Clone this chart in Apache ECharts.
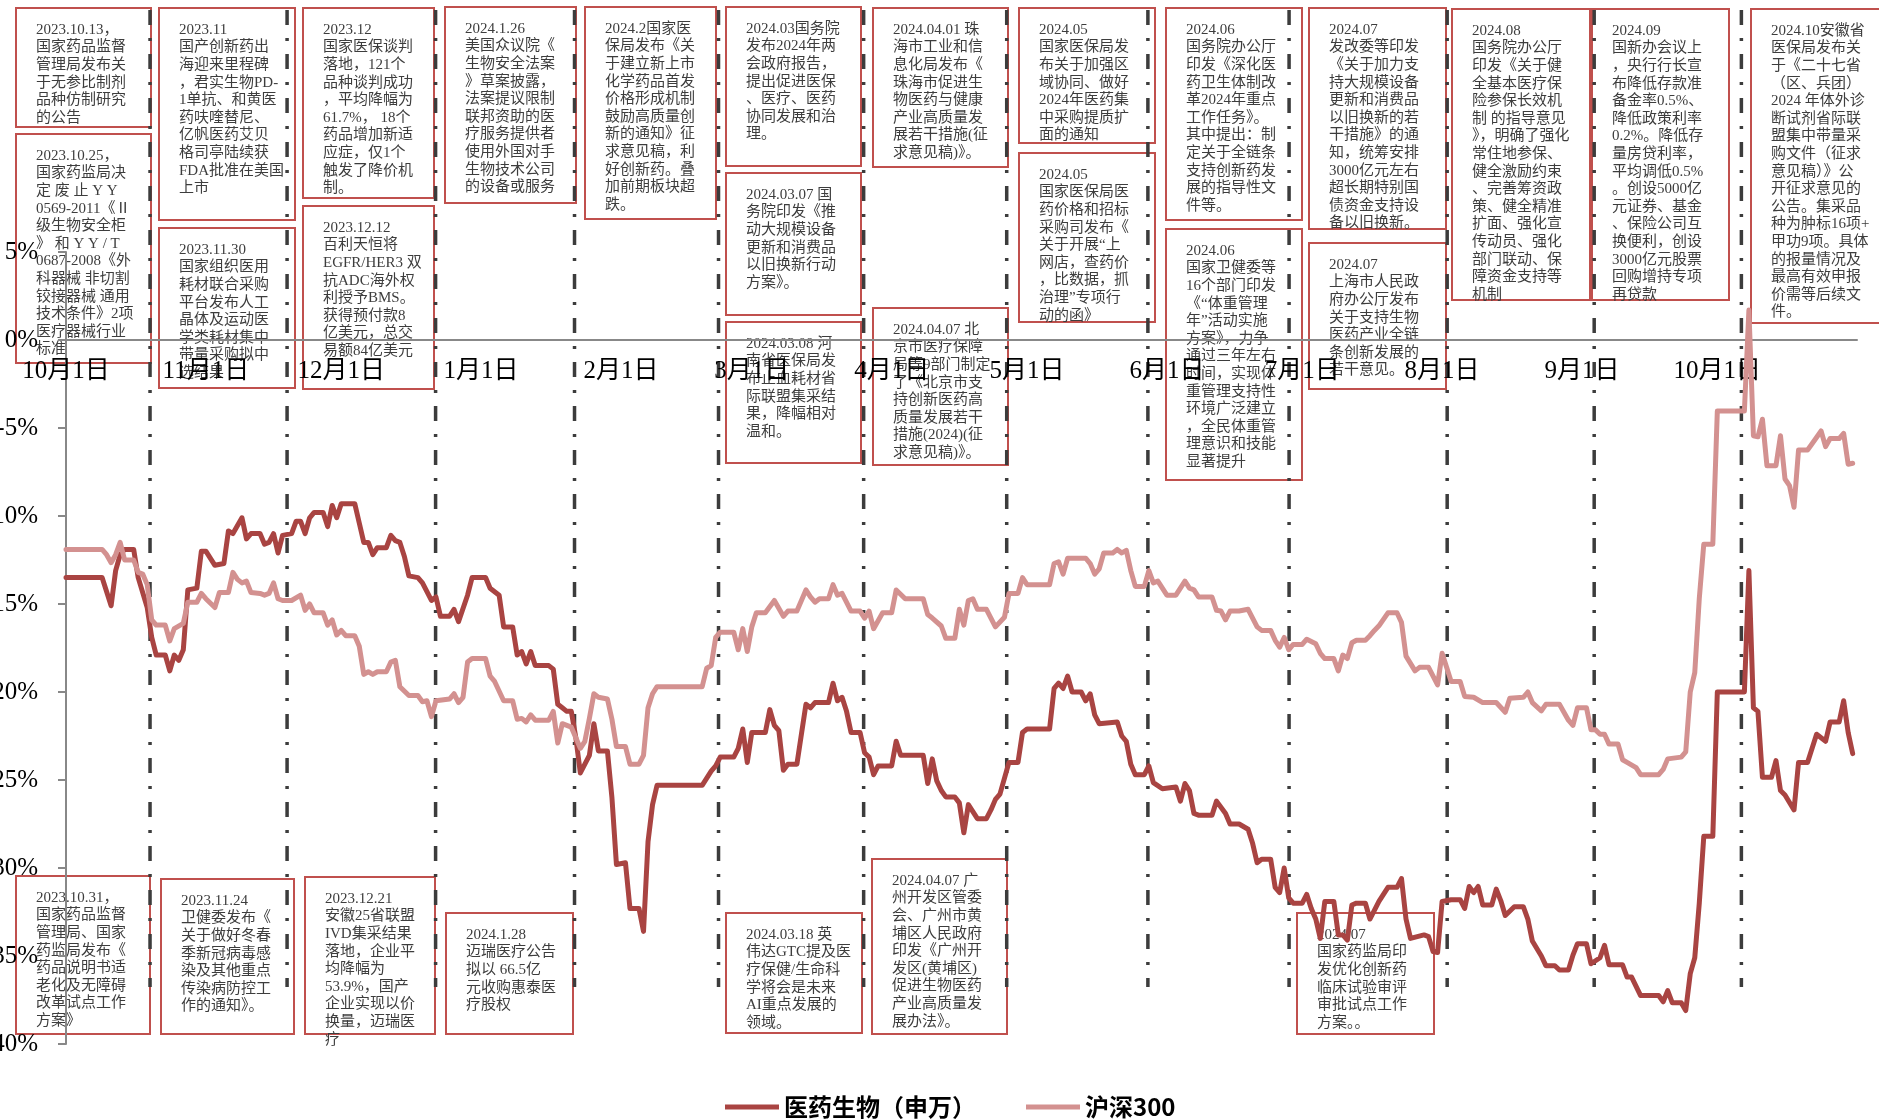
<!DOCTYPE html>
<html><head><meta charset="utf-8">
<script src="https://cdn.jsdelivr.net/npm/echarts@6/dist/echarts.min.js"></script>
<style>html,body{margin:0;padding:0;background:#fff}#c{width:1879px;height:1120px}</style>
</head><body><div id="c"></div>
<script>
const seriesNames = ['医药生物（申万）', '沪深300'];

const pharmaDates = ['2023-10-01','2023-10-09','2023-10-11','2023-10-12','2023-10-13','2023-10-14','2023-10-16','2023-10-17','2023-10-19','2023-10-20','2023-10-21','2023-10-23','2023-10-24','2023-10-25','2023-10-26','2023-10-27','2023-10-28','2023-10-30','2023-10-31','2023-11-01','2023-11-03','2023-11-05','2023-11-06','2023-11-07','2023-11-09','2023-11-10','2023-11-11','2023-11-13','2023-11-14','2023-11-15','2023-11-16','2023-11-17','2023-11-18','2023-11-20','2023-11-21','2023-11-22','2023-11-23','2023-11-24','2023-11-25','2023-11-27','2023-11-28','2023-11-29','2023-11-30','2023-12-01','2023-12-04','2023-12-05','2023-12-06','2023-12-07','2023-12-08','2023-12-09','2023-12-11','2023-12-12','2023-12-13','2023-12-14','2023-12-15','2023-12-16','2023-12-18','2023-12-19','2023-12-21','2023-12-22','2023-12-23','2023-12-25','2023-12-26','2023-12-27','2023-12-29','2023-12-30','2024-01-02','2024-01-03','2024-01-05','2024-01-06','2024-01-08','2024-01-09','2024-01-10','2024-01-11','2024-01-12','2024-01-13','2024-01-16','2024-01-17','2024-01-18','2024-01-19','2024-01-20','2024-01-21','2024-01-22','2024-01-23','2024-01-24','2024-01-25','2024-01-26','2024-01-27','2024-01-29','2024-01-30','2024-01-31','2024-02-02','2024-02-03','2024-02-05','2024-02-06','2024-02-07','2024-02-08','2024-02-09','2024-02-19','2024-02-21','2024-02-22','2024-02-23','2024-02-26','2024-02-27','2024-02-28','2024-02-29','2024-03-01','2024-03-04','2024-03-05','2024-03-06','2024-03-07','2024-03-08','2024-03-09','2024-03-11','2024-03-12','2024-03-13','2024-03-14','2024-03-15','2024-03-18','2024-03-19','2024-03-20','2024-03-21','2024-03-22','2024-03-23','2024-03-25','2024-03-26','2024-03-27','2024-03-28','2024-03-29','2024-04-01','2024-04-02','2024-04-03','2024-04-08','2024-04-09','2024-04-10','2024-04-11','2024-04-12','2024-04-13','2024-04-15','2024-04-16','2024-04-17','2024-04-18','2024-04-20','2024-04-22','2024-04-23','2024-04-24','2024-04-25','2024-04-27','2024-04-29','2024-04-30','2024-05-01','2024-05-06','2024-05-07','2024-05-08','2024-05-09','2024-05-10','2024-05-11','2024-05-13','2024-05-14','2024-05-15','2024-05-16','2024-05-17','2024-05-21','2024-05-22','2024-05-23','2024-05-24','2024-05-25','2024-05-27','2024-05-28','2024-05-29','2024-05-31','2024-06-03','2024-06-04','2024-06-05','2024-06-06','2024-06-07','2024-06-08','2024-06-11','2024-06-12','2024-06-14','2024-06-15','2024-06-17','2024-06-19','2024-06-20','2024-06-21','2024-06-22','2024-06-24','2024-06-25','2024-06-26','2024-06-27','2024-06-28','2024-06-29','2024-07-01','2024-07-02','2024-07-03','2024-07-04','2024-07-05','2024-07-06','2024-07-08','2024-07-09','2024-07-10','2024-07-11','2024-07-12','2024-07-13','2024-07-15','2024-07-16','2024-07-18','2024-07-20','2024-07-22','2024-07-23','2024-07-24','2024-07-25','2024-07-28','2024-07-29','2024-07-30','2024-07-31','2024-08-01','2024-08-03','2024-08-05','2024-08-06','2024-08-07','2024-08-08','2024-08-09','2024-08-10','2024-08-12','2024-08-13','2024-08-14','2024-08-15','2024-08-17','2024-08-19','2024-08-20','2024-08-21','2024-08-23','2024-08-24','2024-08-26','2024-08-27','2024-08-29','2024-08-30','2024-08-31','2024-09-02','2024-09-03','2024-09-05','2024-09-06','2024-09-07','2024-09-10','2024-09-11','2024-09-12','2024-09-14','2024-09-18','2024-09-19','2024-09-20','2024-09-21','2024-09-23','2024-09-24','2024-09-25','2024-09-26','2024-09-27','2024-09-28','2024-09-30','2024-10-01','2024-10-07','2024-10-08','2024-10-09','2024-10-10','2024-10-11','2024-10-13','2024-10-14','2024-10-15','2024-10-16','2024-10-18','2024-10-19','2024-10-21','2024-10-23','2024-10-25','2024-10-26','2024-10-28','2024-10-29','2024-10-30','2024-10-31'];
const pharmaValues = [-13.5,-13.5,-15.1,-13.1,-12.2,-11.9,-11.9,-13.5,-15.2,-16.9,-17.9,-17.9,-18.8,-17.9,-18.2,-17.6,-14.2,-14.1,-12.0,-12.0,-12.8,-12.7,-10.85,-11.0,-10.1,-11.3,-11.0,-11.0,-11.6,-11.5,-11.0,-12.1,-11.1,-11.0,-10.3,-10.3,-11.0,-10.1,-9.8,-9.8,-10.6,-9.4,-10.1,-9.3,-9.3,-10.4,-11.5,-11.5,-12.2,-11.8,-11.8,-11.1,-11.4,-11.5,-12.3,-13.4,-13.5,-13.8,-14.8,-14.6,-15.7,-15.7,-15.3,-16.0,-14.5,-13.5,-13.5,-14.1,-14.5,-16.3,-16.3,-17.9,-17.7,-18.4,-17.7,-18.5,-18.5,-18.7,-20.7,-20.9,-21.1,-21.1,-22.6,-24.6,-24.1,-23.6,-21.8,-23.35,-23.35,-26.0,-29.8,-29.7,-32.3,-32.3,-33.6,-28.5,-26.4,-25.3,-25.3,-24.5,-24.2,-23.7,-23.7,-23.2,-22.1,-24.0,-22.3,-22.3,-21.0,-21.9,-22.2,-24.45,-24.1,-24.1,-22.4,-20.7,-20.9,-20.6,-20.6,-19.5,-20.5,-20.3,-21.1,-22.3,-22.3,-23.45,-23.7,-24.7,-24.2,-24.2,-22.8,-23.6,-23.6,-25.2,-23.8,-25.05,-25.6,-25.96,-25.96,-26.3,-28.0,-26.4,-27.2,-27.2,-26.7,-26.1,-25.8,-24.0,-24.0,-22.3,-22.1,-22.1,-19.8,-19.5,-19.8,-19.1,-20.0,-20.0,-20.5,-20.1,-21.3,-21.8,-21.7,-22.5,-22.8,-24.1,-24.7,-24.7,-24.2,-25.15,-25.5,-25.4,-26.2,-25.2,-25.6,-26.9,-27.0,-27.0,-26.2,-26.9,-27.5,-27.5,-27.8,-28.6,-29.7,-29.5,-29.5,-31.1,-31.4,-30.0,-31.7,-32.0,-32.0,-31.5,-32.3,-32.9,-34.0,-31.9,-31.9,-33.8,-33.8,-34.1,-32.1,-32.0,-32.0,-32.9,-31.9,-31.1,-31.1,-30.6,-32.9,-34.0,-33.8,-33.9,-34.75,-34.8,-31.9,-31.8,-31.8,-32.3,-31.05,-31.4,-31.05,-32.1,-32.1,-31.2,-31.85,-32.7,-32.2,-32.2,-32.9,-34.15,-35.0,-35.55,-35.55,-35.8,-35.8,-34.95,-34.3,-34.3,-35.44,-35.1,-34.4,-35.5,-35.5,-36.2,-36.2,-37.25,-37.25,-37.6,-36.97,-37.65,-37.65,-38.1,-36.0,-35.1,-32.0,-28.2,-28.2,-20.0,-20.0,-13.1,-20.9,-21.1,-24.85,-24.85,-23.9,-25.6,-25.85,-26.7,-24.0,-24.0,-22.4,-22.8,-21.7,-21.7,-20.5,-22.3,-23.5];

const csiDates = ['2023-10-01','2023-10-09','2023-10-10','2023-10-11','2023-10-12','2023-10-13','2023-10-14','2023-10-16','2023-10-17','2023-10-18','2023-10-19','2023-10-20','2023-10-21','2023-10-23','2023-10-24','2023-10-25','2023-10-27','2023-10-28','2023-10-30','2023-10-31','2023-11-01','2023-11-03','2023-11-04','2023-11-06','2023-11-07','2023-11-08','2023-11-09','2023-11-10','2023-11-11','2023-11-13','2023-11-14','2023-11-15','2023-11-16','2023-11-17','2023-11-18','2023-11-20','2023-11-22','2023-11-23','2023-11-24','2023-11-25','2023-11-27','2023-11-28','2023-11-29','2023-11-30','2023-12-01','2023-12-02','2023-12-04','2023-12-05','2023-12-06','2023-12-07','2023-12-08','2023-12-09','2023-12-11','2023-12-12','2023-12-13','2023-12-14','2023-12-16','2023-12-18','2023-12-19','2023-12-20','2023-12-21','2023-12-22','2023-12-25','2023-12-26','2023-12-27','2023-12-28','2023-12-29','2023-12-30','2024-01-02','2024-01-03','2024-01-04','2024-01-06','2024-01-08','2024-01-09','2024-01-10','2024-01-11','2024-01-12','2024-01-13','2024-01-16','2024-01-17','2024-01-18','2024-01-19','2024-01-21','2024-01-23','2024-01-24','2024-01-25','2024-01-26','2024-01-27','2024-01-29','2024-01-30','2024-01-31','2024-02-02','2024-02-03','2024-02-05','2024-02-06','2024-02-07','2024-02-08','2024-02-09','2024-02-19','2024-02-20','2024-02-21','2024-02-22','2024-02-23','2024-02-26','2024-02-27','2024-02-28','2024-02-29','2024-03-01','2024-03-02','2024-03-04','2024-03-06','2024-03-08','2024-03-09','2024-03-11','2024-03-13','2024-03-14','2024-03-15','2024-03-16','2024-03-18','2024-03-19','2024-03-20','2024-03-21','2024-03-23','2024-03-25','2024-03-26','2024-03-27','2024-03-28','2024-03-30','2024-04-01','2024-04-02','2024-04-04','2024-04-08','2024-04-09','2024-04-10','2024-04-12','2024-04-13','2024-04-15','2024-04-16','2024-04-17','2024-04-18','2024-04-19','2024-04-20','2024-04-22','2024-04-23','2024-04-24','2024-04-26','2024-04-27','2024-04-29','2024-04-30','2024-05-01','2024-05-06','2024-05-07','2024-05-08','2024-05-09','2024-05-10','2024-05-14','2024-05-15','2024-05-16','2024-05-17','2024-05-18','2024-05-20','2024-05-21','2024-05-22','2024-05-23','2024-05-24','2024-05-25','2024-05-27','2024-05-28','2024-05-29','2024-05-30','2024-06-01','2024-06-03','2024-06-05','2024-06-06','2024-06-07','2024-06-08','2024-06-11','2024-06-12','2024-06-13','2024-06-14','2024-06-15','2024-06-17','2024-06-19','2024-06-21','2024-06-22','2024-06-24','2024-06-25','2024-06-26','2024-06-27','2024-06-28','2024-06-29','2024-07-01','2024-07-02','2024-07-04','2024-07-05','2024-07-06','2024-07-08','2024-07-09','2024-07-10','2024-07-11','2024-07-12','2024-07-13','2024-07-15','2024-07-16','2024-07-17','2024-07-18','2024-07-20','2024-07-22','2024-07-23','2024-07-24','2024-07-26','2024-07-27','2024-07-29','2024-07-30','2024-07-31','2024-08-01','2024-08-02','2024-08-03','2024-08-05','2024-08-06','2024-08-08','2024-08-10','2024-08-13','2024-08-15','2024-08-16','2024-08-19','2024-08-20','2024-08-21','2024-08-23','2024-08-24','2024-08-27','2024-08-29','2024-08-30','2024-08-31','2024-09-02','2024-09-03','2024-09-04','2024-09-05','2024-09-06','2024-09-07','2024-09-09','2024-09-10','2024-09-11','2024-09-13','2024-09-14','2024-09-18','2024-09-19','2024-09-20','2024-09-23','2024-09-24','2024-09-25','2024-09-26','2024-09-27','2024-09-28','2024-09-30','2024-10-01','2024-10-07','2024-10-08','2024-10-09','2024-10-10','2024-10-11','2024-10-12','2024-10-14','2024-10-15','2024-10-16','2024-10-17','2024-10-18','2024-10-19','2024-10-21','2024-10-22','2024-10-24','2024-10-25','2024-10-26','2024-10-28','2024-10-29','2024-10-30','2024-10-31'];
const csiValues = [-11.9,-11.9,-12.2,-12.65,-12.2,-11.5,-12.5,-12.5,-13.2,-13.3,-13.9,-15.9,-16.2,-16.2,-17.1,-16.4,-16.1,-14.9,-14.9,-14.4,-14.7,-15.2,-14.35,-14.35,-13.2,-13.6,-13.8,-13.7,-14.35,-14.4,-14.5,-14.4,-13.8,-14.7,-14.8,-14.8,-14.5,-15.36,-15.0,-15.5,-15.5,-16.2,-15.9,-16.76,-16.5,-16.8,-16.8,-17.4,-19.0,-18.85,-19.0,-18.85,-18.85,-18.3,-18.2,-19.7,-20.2,-20.2,-20.55,-20.5,-21.4,-20.5,-20.4,-20.1,-20.6,-20.3,-18.3,-18.1,-18.1,-19.1,-19.4,-20.5,-20.5,-21.55,-21.5,-21.7,-21.3,-21.6,-21.6,-21.1,-22.9,-21.8,-22.0,-23.2,-22.8,-21.5,-20.1,-20.3,-20.4,-21.55,-23.1,-23.1,-24.1,-24.1,-23.6,-20.9,-20.1,-19.7,-19.7,-18.65,-18.5,-16.9,-16.6,-16.6,-17.6,-16.4,-17.7,-16.3,-15.5,-15.5,-14.8,-15.7,-15.4,-15.4,-14.2,-14.6,-14.9,-14.7,-14.7,-13.9,-14.5,-14.4,-15.4,-15.4,-15.8,-15.4,-16.4,-15.5,-15.5,-14.2,-14.7,-14.7,-15.6,-15.8,-16.25,-16.95,-16.95,-15.3,-16.2,-14.8,-14.7,-15.3,-15.3,-15.8,-16.3,-15.75,-14.4,-14.4,-13.5,-13.9,-13.9,-12.7,-12.6,-13.3,-12.4,-12.4,-12.7,-13.3,-13.0,-12.1,-12.1,-11.9,-12.1,-11.95,-13.1,-14.0,-14.0,-13.1,-13.8,-13.7,-14.5,-14.5,-13.7,-14.1,-14.2,-14.6,-14.6,-15.36,-15.4,-15.9,-15.4,-15.4,-15.3,-16.3,-16.5,-16.5,-17.06,-17.45,-16.9,-17.6,-17.3,-17.3,-17.0,-17.26,-17.8,-18.1,-18.1,-18.8,-17.9,-18.1,-17.2,-17.06,-17.06,-16.8,-16.5,-16.24,-15.5,-15.5,-16.04,-17.96,-18.8,-18.6,-18.6,-19.1,-19.6,-17.8,-18.6,-19.4,-19.4,-20.25,-20.3,-20.6,-20.6,-21.15,-20.35,-20.3,-20.0,-20.6,-21.07,-20.7,-20.7,-21.6,-21.9,-20.9,-20.9,-22.15,-22.15,-22.4,-22.4,-22.96,-22.96,-23.85,-24.0,-24.3,-24.7,-24.7,-24.4,-23.8,-23.7,-23.4,-20.0,-18.9,-14.7,-11.6,-11.6,-4.04,-4.04,1.7,-5.44,-5.5,-4.5,-7.14,-7.14,-5.44,-7.9,-8.27,-9.5,-6.25,-6.25,-5.9,-5.17,-6.06,-5.6,-5.6,-5.3,-7.06,-7.0];

const xAxisMin = '2023-10-01';
const xAxisMax = '2024-10-31 23';
const yAxisMin = -40, yAxisMax = 5, yAxisStep = 5;

// event-period separators (dash-dot vertical lines)
const separatorDates = ['2023-10-19 15','2023-11-19 00','2023-12-21 22','2024-01-21 17','2024-02-22 15','2024-03-25 19','2024-04-26 12','2024-05-27 19','2024-06-28 02','2024-08-02 03','2024-09-03 17','2024-10-06 08'];

const annotationTexts = [
'2023.10.13，\n国家药品监督\n管理局发布关\n于无参比制剂\n品种仿制研究\n的公告',
'2023.10.25，\n国家药监局决\n定 废 止 Y Y\n0569-2011《Ⅱ\n级生物安全柜\n》 和 Y Y / T\n0687-2008《外\n科器械 非切割\n铰接器械 通用\n技术条件》2项\n医疗器械行业\n标准',
'2023.11\n国产创新药出\n海迎来里程碑\n，君实生物PD-\n1单抗、和黄医\n药呋喹替尼、\n亿帆医药艾贝\n格司亭陆续获\nFDA批准在美国\n上市',
'2023.11.30\n国家组织医用\n耗材联合采购\n平台发布人工\n晶体及运动医\n学类耗材集中\n带量采购拟中\n选结果',
'2023.12\n国家医保谈判\n落地，121个\n品种谈判成功\n，平均降幅为\n61.7%， 18个\n药品增加新适\n应症，仅1个\n触发了降价机\n制。',
'2023.12.12\n百利天恒将\nEGFR/HER3 双\n抗ADC海外权\n利授予BMS。\n获得预付款8\n亿美元，总交\n易额84亿美元',
'2024.1.26\n美国众议院《\n生物安全法案\n》草案披露，\n法案提议限制\n联邦资助的医\n疗服务提供者\n使用外国对手\n生物技术公司\n的设备或服务',
'2024.2国家医\n保局发布《关\n于建立新上市\n化学药品首发\n价格形成机制\n鼓励高质量创\n新的通知》征\n求意见稿，利\n好创新药。叠\n加前期板块超\n跌。',
'2024.03国务院\n发布2024年两\n会政府报告，\n提出促进医保\n、医疗、医药\n协同发展和治\n理。',
'2024.03.07 国\n务院印发《推\n动大规模设备\n更新和消费品\n以旧换新行动\n方案》。',
'2024.03.08 河\n南省医保局发\n布止血耗材省\n际联盟集采结\n果，降幅相对\n温和。',
'2024.04.01 珠\n海市工业和信\n息化局发布《\n珠海市促进生\n物医药与健康\n产业高质量发\n展若干措施(征\n求意见稿)》。',
'2024.04.07 北\n京市医疗保障\n局等9部门制定\n了《北京市支\n持创新医药高\n质量发展若干\n措施(2024)(征\n求意见稿)》。',
'2024.05\n国家医保局发\n布关于加强区\n域协同、做好\n2024年医药集\n中采购提质扩\n面的通知',
'2024.05\n国家医保局医\n药价格和招标\n采购司发布《\n关于开展“上\n网店，查药价\n，比数据，抓\n治理”专项行\n动的函》',
'2024.06\n国务院办公厅\n印发《深化医\n药卫生体制改\n革2024年重点\n工作任务》。\n其中提出：制\n定关于全链条\n支持创新药发\n展的指导性文\n件等。',
'2024.06\n国家卫健委等\n16个部门印发\n《“体重管理\n年”活动实施\n方案》，力争\n通过三年左右\n时间，实现体\n重管理支持性\n环境广泛建立\n，全民体重管\n理意识和技能\n显著提升',
'2024.07\n发改委等印发\n《关于加力支\n持大规模设备\n更新和消费品\n以旧换新的若\n干措施》的通\n知，统筹安排\n3000亿元左右\n超长期特别国\n债资金支持设\n备以旧换新。',
'2024.07\n上海市人民政\n府办公厅发布\n关于支持生物\n医药产业全链\n条创新发展的\n若干意见。',
'2024.08\n国务院办公厅\n印发《关于健\n全基本医疗保\n险参保长效机\n制 的指导意见\n》，明确了强化\n常住地参保、\n健全激励约束\n、完善筹资政\n策、健全精准\n扩面、强化宣\n传动员、强化\n部门联动、保\n障资金支持等\n机制',
'2024.09\n国新办会议上\n，央行行长宣\n布降低存款准\n备金率0.5%、\n降低政策利率\n0.2%。降低存\n量房贷利率，\n平均调低0.5%\n。创设5000亿\n元证券、基金\n、保险公司互\n换便利，创设\n3000亿元股票\n回购增持专项\n再贷款',
'2024.10安徽省\n医保局发布关\n于《二十七省\n（区、兵团）\n2024 年体外诊\n断试剂省际联\n盟集中带量采\n购文件（征求\n意见稿）》公\n开征求意见的\n公告。集采品\n种为肿标16项+\n甲功9项。具体\n的报量情况及\n最高有效申报\n价需等后续文\n件。',
'2023.10.31，\n国家药品监督\n管理局、国家\n药监局发布《\n药品说明书适\n老化及无障碍\n改革试点工作\n方案》',
'2023.11.24\n卫健委发布《\n关于做好冬春\n季新冠病毒感\n染及其他重点\n传染病防控工\n作的通知》。',
'2023.12.21\n安徽25省联盟\nIVD集采结果\n落地，企业平\n均降幅为\n53.9%，国产\n企业实现以价\n换量，迈瑞医\n疗',
'2024.1.28\n迈瑞医疗公告\n拟以 66.5亿\n元收购惠泰医\n疗股权',
'2024.03.18 英\n伟达GTC提及医\n疗保健/生命科\n学将会是未来\nAI重点发展的\n领域。',
'2024.04.07 广\n州开发区管委\n会、广州市黄\n埔区人民政府\n印发《广州开\n发区(黄埔区)\n促进生物医药\n产业高质量发\n展办法》。',
'2024.07\n国家药监局印\n发优化创新药\n临床试验审评\n审批试点工作\n方案。。'
];

// layout of the annotation boxes: [left, top, width, height] in pixels
const annotationBoxes = [
[16,8,135,119],[16,134,135,229],[159,8,136,212],[159,228,136,160],[303,8,131,190],[303,206,131,183],
[445,7,131,196],[585,7,131,212],[726,7,135,159],[726,173,135,142],[726,322,135,141],
[873,8,135,159],[873,308,135,157],[1019,8,136,135],[1019,153,136,169],[1166,8,136,212],[1166,229,136,251],
[1309,8,137,221],[1309,243,137,146],[1452,9,138,291],[1592,9,137,291],[1751,9,135,314],
[16,876,134,158],[161,879,133,155],[305,877,130,157],[446,913,127,121],[726,913,136,120],[872,859,135,175],[1297,913,137,121]
];

function parseLocal(s) {
  const [d, t] = s.split(' ');
  const [y, m, dd] = d.split('-').map(Number);
  const h = t ? Number(t) : 0;
  return new Date(y, m - 1, dd, h).getTime();
}

const serifCJK = '"Liberation Serif", "Noto Sans CJK SC", serif';
const GRID = {left: 66, right: 22, top: 252, bottom: 76};
const gridHeight = 1120 - GRID.top - GRID.bottom;
// x axis sits on the 0% line
const xAxisOffset = -gridHeight * (0 - yAxisMin) / (yAxisMax - yAxisMin);

const chart = echarts.init(document.getElementById('c'), null, {renderer: 'canvas'});
const option = {
  backgroundColor: '#ffffff',
  animation: false,
  grid: Object.assign({containLabel: false, outerBoundsMode: 'none'}, GRID),
  legend: {
    data: seriesNames, top: 1090, left: 720, icon: 'rect', itemWidth: 54, itemHeight: 5, itemGap: 50,
    textStyle: {fontSize: 24, fontWeight: 'bold', color: '#000', fontFamily: '"Noto Sans CJK SC", sans-serif'}
  },
  xAxis: {
    type: 'time', position: 'bottom', offset: xAxisOffset,
    min: parseLocal(xAxisMin), max: parseLocal(xAxisMax), z: 3,
    minInterval: 28 * 86400000, maxInterval: 31 * 86400000,
    axisLine: {show: true, onZero: false, lineStyle: {color: '#888888', width: 2}},
    axisTick: {show: false}, splitLine: {show: false},
    axisLabel: {formatter: '{M}月{d}日', fontSize: 25, color: '#000', fontFamily: serifCJK, margin: 19, fontWeight: 'normal'}
  },
  yAxis: {
    type: 'value', min: yAxisMin, max: yAxisMax, interval: yAxisStep, z: 3,
    axisLine: {show: true, lineStyle: {color: '#888888', width: 2}},
    axisTick: {show: true, length: 8, lineStyle: {color: '#888888', width: 2}},
    splitLine: {show: false},
    axisLabel: {formatter: v => v + '%', fontSize: 25, color: '#000', fontFamily: '"Liberation Serif", serif', margin: 28}
  },
  series: [
    {name: seriesNames[0], type: 'line', z: 4, showSymbol: false, symbol: 'none', smooth: false,
     lineStyle: {color: '#a94442', width: 5, cap: 'round', join: 'round'}, itemStyle: {color: '#a94442'},
     data: pharmaDates.map((d, i) => [parseLocal(d), pharmaValues[i]])},
    {name: seriesNames[1], type: 'line', z: 4, showSymbol: false, symbol: 'none', smooth: false,
     lineStyle: {color: '#d39190', width: 5, cap: 'round', join: 'round'}, itemStyle: {color: '#d39190'},
     data: csiDates.map((d, i) => [parseLocal(d), csiValues[i]])}
  ]
};
chart.setOption(option);

const gfx = [];
annotationBoxes.forEach(([x, y, w, h], i) => {
  gfx.push({type: 'rect', silent: true, z: 0, shape: {x: x, y: y, width: w, height: h},
            style: {fill: '#ffffff', stroke: '#c0504d', lineWidth: 2}});
  gfx.push({type: 'text', silent: true, z: 0, x: x + 20, y: y + 13,
            style: {text: annotationTexts[i], fill: '#3d3d3d', font: '15px ' + serifCJK, lineHeight: 17.6, align: 'left', verticalAlign: 'top'}});
});
separatorDates.forEach(d => {
  const px = chart.convertToPixel({xAxisIndex: 0}, parseLocal(d));
  gfx.push({type: 'line', silent: true, z: 1, shape: {x1: px, y1: 10, x2: px, y2: 987},
            style: {stroke: '#3c3c3c', lineWidth: 3.5, lineDash: [15, 13, 3, 13]}});
});
chart.setOption({graphic: gfx});
</script>
</body></html>
